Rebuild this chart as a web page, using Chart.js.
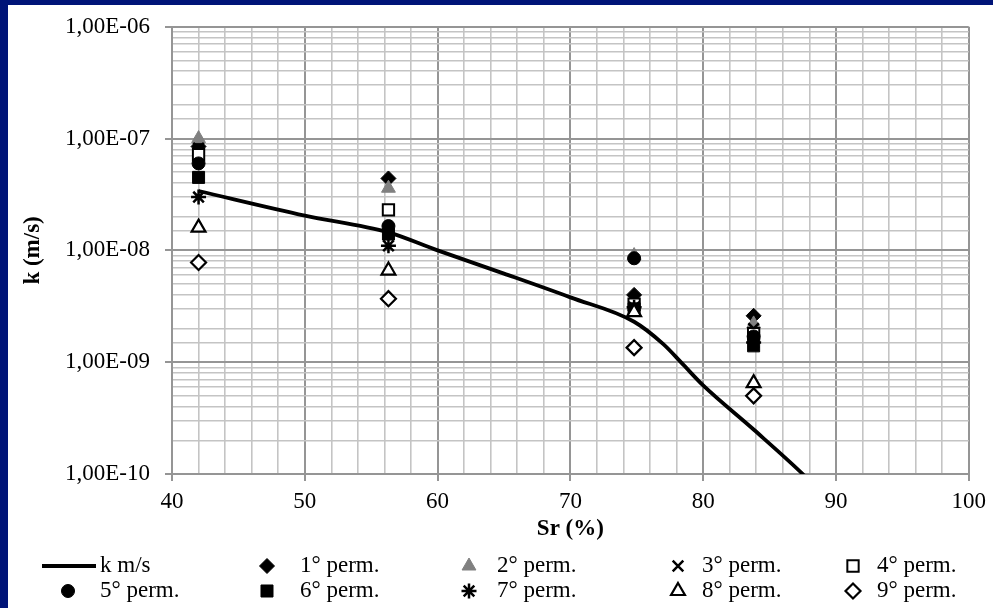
<!DOCTYPE html>
<html>
<head>
<meta charset="utf-8">
<script src="https://cdn.jsdelivr.net/npm/chart.js@4.4.1/dist/chart.umd.min.js"></script>
<style>
  html, body { margin: 0; padding: 0; }
  body { width: 993px; height: 608px; background: #001478; position: relative; overflow: hidden;
         font-family: "Liberation Serif", "Times New Roman", serif; }
  #panel { position: absolute; left: 8px; top: 5px; width: 985px; height: 603px; background: #fff; }
  #chartBox { position: absolute; left: 0; top: -7px; width: 985px; height: 550px; }
  #legend { position: absolute; left: 0; top: 0; width: 985px; height: 603px; }
  .sym { position: absolute; }
  .txt { position: absolute; font-size: 23px; line-height: 26px; color: #000; white-space: nowrap; }
</style>
</head>
<body>
<div id="panel">
  <div id="chartBox"><canvas id="myChart"></canvas></div>
  <div id="legend"></div>
</div>
<script>
// saturation degree of the tested samples
const sr = [42, 56.3, 74.8, 83.8];

// measured permeability, one array per test
const perm1 = [8.5e-8, 4.4e-8, 4.0e-9, 2.6e-9];
const perm2 = [1.0e-7, 3.6e-8, 9.0e-9, 2.2e-9];
const perm3 = [8.2e-8, 1.5e-8, 3.6e-9, 2.0e-9];
const perm4 = [7.2e-8, 2.3e-8, 3.3e-9, 1.8e-9];
const perm5 = [6.0e-8, 1.65e-8, 8.5e-9, 1.7e-9];
const perm6 = [4.5e-8, 1.4e-8, 3.0e-9, 1.4e-9];
const perm7 = [3.0e-8, 1.1e-8, 3.1e-9, 1.5e-9];
const perm8 = [1.6e-8, 6.6e-9, 2.8e-9, 6.5e-10];
const perm9 = [7.8e-9, 3.7e-9, 1.35e-9, 5.0e-10];

// k (m/s) curve
const lineSr = [42, 50, 56.3, 60, 65, 70, 74.8, 77, 78.5, 80, 83.8, 87.5, 90];
const lineK = [3.4e-8, 2.05e-8, 1.45e-8, 1.0e-8, 6.2e-9, 3.8e-9, 2.3e-9, 1.45e-9, 9.5e-10, 6.2e-10, 2.5e-10, 1.0e-10, 5.0e-11];

const permLabels = ["1° perm.", "2° perm.", "3° perm.", "4° perm.", "5° perm.",
                    "6° perm.", "7° perm.", "8° perm.", "9° perm."];
const permValues = [perm1, perm2, perm3, perm4, perm5, perm6, perm7, perm8, perm9];

const markerStyles = [
    { pointStyle: "rectRot", radius: 7.5, bg: "#000", border: "#000", bw: 1 },
    { pointStyle: "triangle", radius: 8, bg: "#808080", border: "#808080", bw: 1 },
    { pointStyle: "crossRot", radius: 7.5, bg: "#000", border: "#000", bw: 2.5 },
    { pointStyle: "rect", radius: 8, bg: "#fff", border: "#000", bw: 2 },
    { pointStyle: "circle", radius: 6.5, bg: "#000", border: "#000", bw: 1 },
    { pointStyle: "rect", radius: 8.5, bg: "#000", border: "#000", bw: 1 },
    { pointStyle: "star", radius: 7.5, bg: "#000", border: "#000", bw: 2.5 },
    { pointStyle: "triangle", radius: 8, bg: "#fff", border: "#000", bw: 2.2 },
    { pointStyle: "rectRot", radius: 7.5, bg: "#fff", border: "#000", bw: 2.2 },
];

const isDecade = (v) => Math.abs(Math.log10(v) - Math.round(Math.log10(v))) < 1e-6;
const fontFamily = "'Liberation Serif', 'Times New Roman', serif";

const datasets = [
    {
        label: "k m/s",
        data: lineSr.map((x, i) => ({ x: x, y: lineK[i] })),
        showLine: true,
        borderColor: "#000",
        backgroundColor: "#000",
        borderWidth: 3.8,
        pointRadius: 0,
        cubicInterpolationMode: "monotone",
        clip: 0,
        order: 20,
    },
];
permValues.forEach((vals, i) => {
    const s = markerStyles[i];
    datasets.push({
        label: permLabels[i],
        data: sr.map((x, j) => ({ x: x, y: vals[j] })),
        showLine: false,
        pointStyle: s.pointStyle,
        pointRadius: s.radius,
        pointHoverRadius: s.radius,
        backgroundColor: s.bg,
        borderColor: s.border,
        borderWidth: s.bw,
        order: 10 - i,
    });
});

const majorGrid = "#959595";
const minorGrid = "#c4c4c4";

const ctx = document.getElementById("myChart").getContext("2d");
const myChart = new Chart(ctx, {
    type: "scatter",
    data: { datasets: datasets },
    options: {
        responsive: true,
        maintainAspectRatio: false,
        animation: false,
        layout: { padding: { top: 14, right: 22, left: 0, bottom: 0 } },
        plugins: {
            legend: { display: false },
            tooltip: { enabled: false },
        },
        scales: {
            x: {
                type: "linear",
                min: 40,
                max: 100,
                afterFit: (scale) => { scale.height = 74; },
                ticks: {
                    stepSize: 2,
                    autoSkip: false,
                    maxRotation: 0,
                    padding: 7,
                    color: "#000",
                    font: { family: fontFamily, size: 23 },
                    callback: (v) => (v % 10 === 0 ? v : ""),
                },
                grid: {
                    color: (c) => (c.tick && c.tick.value % 10 === 0 ? majorGrid : minorGrid),
                    lineWidth: (c) => (c.tick && c.tick.value % 10 === 0 ? 2 : 1.6),
                    tickColor: (c) => (c.tick && c.tick.value % 10 === 0 ? majorGrid : "rgba(0,0,0,0)"),
                    tickLength: 7,
                },
                border: { color: majorGrid, width: 2 },
                title: {
                    display: true,
                    text: "Sr (%)",
                    color: "#000",
                    font: { family: fontFamily, size: 23, weight: "bold" },
                    padding: { top: 0, bottom: 5 },
                },
            },
            y: {
                type: "logarithmic",
                min: 1e-10,
                max: 1e-6,
                afterFit: (scale) => { scale.width = 164; },
                ticks: {
                    autoSkip: false,
                    padding: 15,
                    color: "#000",
                    font: { family: fontFamily, size: 23 },
                    callback: (v) => {
                        if (!isDecade(v)) return "";
                        const e = Math.round(Math.log10(v));
                        return "1,00E-" + String(-e).padStart(2, "0");
                    },
                },
                grid: {
                    color: (c) => (c.tick && isDecade(c.tick.value) ? majorGrid : minorGrid),
                    lineWidth: (c) => (c.tick && isDecade(c.tick.value) ? 2 : 1.6),
                    tickColor: (c) => (c.tick && isDecade(c.tick.value) ? majorGrid : "rgba(0,0,0,0)"),
                    tickLength: 7,
                },
                border: { color: majorGrid, width: 2 },
                title: {
                    display: true,
                    text: "k (m/s)",
                    color: "#000",
                    font: { family: fontFamily, size: 23, weight: "bold" },
                    padding: { top: 11, bottom: 0 },
                },
            },
        },
    },
});

// legend laid out in 5 columns x 2 rows like the original
const legendCols = [{ sym: 60, txt: 92 }, { sym: 259, txt: 292 }, { sym: 461, txt: 489 },
                    { sym: 670, txt: 694 }, { sym: 845, txt: 869 }];
const legendRows = [561, 586];
const legendEl = document.getElementById("legend");
myChart.data.datasets.forEach((ds, i) => {
    const col = legendCols[i % 5];
    const rowY = legendRows[Math.floor(i / 5)];
    const cv = document.createElement("canvas");
    const w = ds.showLine ? 56 : 24, h = 24;
    cv.width = w; cv.height = h;
    cv.className = "sym";
    cv.style.left = (ds.showLine ? 34 : col.sym - w / 2) + "px";
    cv.style.top = (rowY - h / 2) + "px";
    const c = cv.getContext("2d");
    if (ds.showLine) {
        c.strokeStyle = ds.borderColor;
        c.lineWidth = ds.borderWidth;
        c.beginPath();
        c.moveTo(0, h / 2);
        c.lineTo(w - 2, h / 2);
        c.stroke();
    } else {
        c.fillStyle = ds.backgroundColor;
        c.strokeStyle = ds.borderColor;
        c.lineWidth = ds.borderWidth;
        Chart.helpers.drawPoint(c, { pointStyle: ds.pointStyle, radius: ds.pointRadius,
            borderWidth: ds.borderWidth, rotation: 0 }, w / 2, h / 2);
    }
    legendEl.appendChild(cv);
    const t = document.createElement("div");
    t.className = "txt";
    t.textContent = ds.label;
    t.style.left = col.txt + "px";
    t.style.top = (rowY - 14) + "px";
    legendEl.appendChild(t);
});
</script>
</body>
</html>
